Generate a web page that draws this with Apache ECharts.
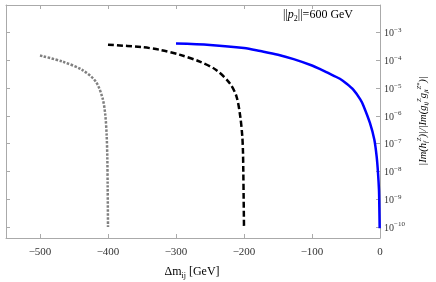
<!DOCTYPE html>
<html>
<head>
<meta charset="utf-8">
<script src="https://cdn.jsdelivr.net/npm/echarts@6/dist/echarts.min.js"></script>
<style>html,body{margin:0;padding:0;background:#fff;}#c{width:436px;height:282px;}</style>
</head>
<body>
<div id="c"></div>
<script>
// Δm_ij [GeV] vs |Im(h)|/|Im(g g*)|
const blueData = [[-300,4.07e-4],[-250,3.63e-4],[-200,2.82e-4],[-176,2.19e-4],[-150,1.62e-4],[-127,1.12e-4],[-100,6.61e-5],[-88,4.9e-5],[-78,3.72e-5],[-59,2.19e-5],[-49,1.45e-5],[-39,8.71e-6],[-29,3.98e-6],[-24.5,2.4e-6],[-14.7,5.5e-7],[-8.3,1.38e-7],[-4.9,3.39e-8],[-2.9,8.71e-9],[-1.5,2.14e-9],[-1,5.37e-10],[-0.5,8.91e-11]];
const blackData = [[-400,3.72e-4],[-350,3.02e-4],[-323,2.4e-4],[-295,1.62e-4],[-265,9.12e-5],[-241,4.57e-5],[-221,1.51e-5],[-211,5.01e-6],[-205.5,9.55e-7],[-202.5,1.82e-7],[-201.5,5.01e-8],[-201,1e-8],[-200.5,1e-9],[-200,1e-10]];
const grayData = [[-500,1.51e-4],[-467,9.12e-5],[-438,4.57e-5],[-418,1.74e-5],[-408,4.37e-6],[-404,1.1e-6],[-402,2.09e-7],[-401,3.16e-8],[-400.5,3.16e-9],[-400,1e-10]];
const xTicks = [-500,-400,-300,-200,-100,0];
const yMin = 3.98e-11, yMax = 1e-2;

const serif = 'Liberation Serif';
const axisColor = '#aaaaaa';
const chart = echarts.init(document.getElementById('c'));
const xBase = {
  type:'value', min:-550, max:0,
  axisLine:{show:true,onZero:false,lineStyle:{color:axisColor,width:1}},
  splitLine:{show:false}
};
const yBase = {
  type:'log', logBase:10, min:yMin, max:yMax,
  axisLine:{show:true,onZero:false,lineStyle:{color:axisColor,width:1}},
  splitLine:{show:false}, minorTick:{show:false}
};
chart.setOption({
  animation:false,
  grid:{left:6,right:56,top:5,bottom:44,containLabel:false},
  xAxis:[
    Object.assign({}, xBase, {position:'bottom',
      axisTick:{show:true,inside:true,length:4,customValues:xTicks,lineStyle:{color:axisColor}},
      axisLabel:{show:true,customValues:xTicks,margin:9,fontFamily:serif,fontSize:11,color:'#333',
        formatter:v=>String(v).replace('-','\u2212')}}),
    Object.assign({}, xBase, {position:'top',
      axisTick:{show:true,inside:true,length:4,customValues:xTicks,lineStyle:{color:axisColor}},
      axisLabel:{show:false}})
  ],
  yAxis:[
    Object.assign({}, yBase, {position:'right',
      axisTick:{show:true,inside:true,length:4,lineStyle:{color:axisColor}},
      axisLabel:{show:true,margin:4,showMinLabel:false,showMaxLabel:false,
        formatter:v=>{const e=Math.round(-Math.log10(v));return (e<3||e>10)?'':'{b|10}{s|\u2212'+e+'}';},
        rich:{b:{fontFamily:serif,fontSize:10,color:'#333',lineHeight:12,verticalAlign:'bottom'},
              s:{fontFamily:serif,fontSize:7,color:'#333',lineHeight:12,verticalAlign:'top'}}}}),
    Object.assign({}, yBase, {position:'left',
      axisTick:{show:true,inside:true,length:4,lineStyle:{color:axisColor}},
      axisLabel:{show:false}})
  ],
  series:[
    {type:'line',data:grayData,showSymbol:false,smooth:0.3,xAxisIndex:0,yAxisIndex:0,
     lineStyle:{color:'#808080',width:2.5,type:[2.5,1.5],cap:'butt'}},
    {type:'line',data:blackData,showSymbol:false,smooth:0.3,xAxisIndex:0,yAxisIndex:0,
     lineStyle:{color:'#000000',width:2.5,type:[6,3],cap:'butt'}},
    {type:'line',data:blueData,showSymbol:false,smooth:0.3,xAxisIndex:0,yAxisIndex:0,
     lineStyle:{color:'#0000ff',width:2.5}}
  ],
  graphic:[
    {type:'text',left:283,top:9,style:{
      text:'{n|||}{i|p}{sb|2}{n|||=600 GeV}',
      rich:{n:{fontFamily:serif,fontSize:12,fill:'#000',lineHeight:16,verticalAlign:'middle'},
            i:{fontFamily:serif,fontStyle:'italic',fontSize:12,fill:'#000',lineHeight:16,verticalAlign:'middle'},
            sb:{fontFamily:serif,fontSize:8,fill:'#000',lineHeight:16,verticalAlign:'bottom'}}}},
    {type:'text',x:192,y:272,style:{
      text:'{n|\u0394m}{sb|ij}{n| [GeV]}',align:'center',verticalAlign:'middle',
      rich:{n:{fontFamily:serif,fontSize:12,fill:'#000',lineHeight:16,verticalAlign:'middle'},
            sb:{fontFamily:serif,fontSize:8,fill:'#000',lineHeight:16,verticalAlign:'bottom'}}}},
    {type:'text',x:423,y:121,rotation:Math.PI/2,style:{
      text:'{i||Im(h}{sb|f}{sp|Z}{i|)|/|Im(g}{sb|ij}{sp|Z}{i|g}{sb|ji}{sp|Z*}{i|)|}',align:'center',verticalAlign:'middle',
      rich:{i:{fontFamily:serif,fontStyle:'italic',fontSize:10.5,fill:'#000',lineHeight:14,verticalAlign:'middle'},
            sb:{fontFamily:serif,fontStyle:'italic',fontSize:6.5,fill:'#000',lineHeight:14,verticalAlign:'bottom'},
            sp:{fontFamily:serif,fontStyle:'italic',fontSize:6.5,fill:'#000',lineHeight:14,verticalAlign:'top'}}}}
  ]
});
</script>
</body>
</html>
